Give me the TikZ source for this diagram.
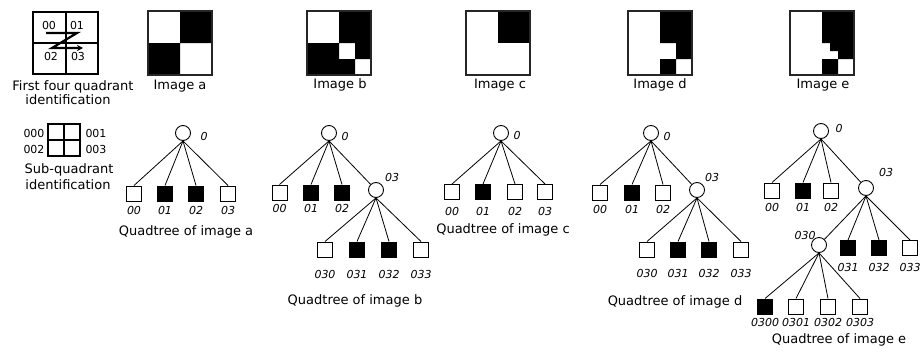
\documentclass[tikz,border=0pt]{standalone}
\usepackage{fontspec}
\setmainfont{DejaVu Sans}
\usetikzlibrary{arrows.meta}

% leaf square with its index written below it
% #1 name, #2 x, #3 y, #4 fill, #5 index, #6 y of the index
\newcommand\qleaf[6]{%
  \node[leaf, fill=#4] (#1) at (#2,#3) {};
  \node[lbl] (#1-t) at (#2,#6) {#5};}

\begin{document}
\begin{tikzpicture}[x=1pt,y=-1pt,
  every node/.style={inner sep=0pt},
  captxt/.style={font=\fontsize{13}{13}\selectfont},
  idx/.style={font=\fontsize{11}{11}\selectfont},
  lbl/.style={font=\fontsize{11}{11}\selectfont\itshape},
  leaf/.style={draw, line width=1pt, minimum size=15pt, fill=white},
  inode/.style={draw, circle, line width=0.9pt, minimum size=15pt, fill=white},
  edge/.style={line width=0.8pt},
  frame/.style={draw=black!85, line width=1.3pt},
  grid/.style={line width=1.1pt},
]
\useasboundingbox (0,0) rectangle (920,356);

% ---------- quadrant numbering ----------
\draw[grid] (33,12) rectangle (98,74) (66,12) -- (66,74) (33,43) -- (98,43);
\node[idx] (q00) at (49,25.5) {00};
\node[idx] (q01) at (77,25.5) {01};
\node[idx] (q02) at (51,56) {02};
\node[idx] (q03) at (78,56) {03};
\draw[line width=2.2pt, -{Stealth[length=6pt,width=6pt]}]
  (46,33) -- (77,33) -- (52,48) -- (83,48);
\node[captxt] (fq1) at (73,87) {First four quadrant};
\node[captxt] (fq2) at (68,99.5) {identification};

% ---------- sub-quadrant numbering ----------
\draw[line width=1.1pt] (48,124) rectangle (80,156);
\draw[line width=2pt] (64,124) -- (64,156) (48,140) -- (80,140);
\node[idx] (s000) at (34,133) {000};
\node[idx] (s002) at (34,149) {002};
\node[idx] (s001) at (96,133) {001};
\node[idx] (s003) at (96,149) {003};
\node[captxt] (sq1) at (69,170) {Sub-quadrant};
\node[captxt] (sq2) at (68,185) {identification};

% ---------- images ----------
% image a
\fill (180,11) rectangle (212,43) (148,43) rectangle (180,75);
\draw[frame] (148,11) rectangle (212,75);
\node[captxt] (ia) at (180,86) {Image a};
% image b
\fill (339,11) rectangle (371,43) (307,43) rectangle (339,75)
      (355,43) rectangle (371,59) (339,59) rectangle (355,75);
\draw[frame] (307,11) rectangle (371,75);
\node[captxt] (ib) at (340,85) {Image b};
% image c
\fill (498,11) rectangle (530,43);
\draw[frame] (466,11) rectangle (530,75);
\node[captxt] (ic) at (500,85) {Image c};
% image d
\fill (660,11) rectangle (692,43) (676,43) rectangle (692,59)
      (660,59) rectangle (676,75);
\draw[frame] (628,11) rectangle (692,75);
\node[captxt] (id) at (660,85) {Image d};
% image e
\fill (822,11) rectangle (854,43) (838,43) rectangle (854,59)
      (822,59) rectangle (838,75) (830,43) rectangle (838,51);
\draw[frame] (790,11) rectangle (854,75);
\node[captxt] (ie) at (823,85) {Image e};

% ---------- quadtree of image a ----------
\node[inode] (a0) at (183,133) {};
\node[lbl] (a0-t) at (204,136) {0};
\qleaf{a00}{134}{193.5}{white}{00}{210}
\qleaf{a01}{165}{193.5}{black}{01}{210}
\qleaf{a02}{196}{193.5}{black}{02}{210}
\qleaf{a03}{228}{193.5}{white}{03}{210}
\foreach \c in {a00,a01,a02,a03} \draw[edge] (a0.south) -- (\c.north);
\node[captxt] (qa) at (186,232) {Quadtree of image a};

% ---------- quadtree of image b ----------
\node[inode] (b0) at (329,133) {};
\node[lbl] (b0-t) at (345,136) {0};
\qleaf{b00}{279.5}{192.5}{white}{00}{208.5}
\qleaf{b01}{311}{192.5}{black}{01}{208.5}
\qleaf{b02}{342}{192.5}{black}{02}{208.5}
\node[inode] (b03) at (376,190) {};
\node[lbl] (b03-t) at (392,177) {03};
\foreach \c in {b00,b01,b02} \draw[edge] (b0.south) -- (\c.north);
\draw[edge] (b0.south) -- (b03);
\qleaf{b030}{325}{249.5}{white}{030}{274}
\qleaf{b031}{357}{249.5}{black}{031}{274}
\qleaf{b032}{389}{249.5}{black}{032}{274}
\qleaf{b033}{421}{249.5}{white}{033}{274}
\foreach \c in {b030,b031,b032,b033} \draw[edge] (b03.south) -- (\c.north);
\node[captxt] (qb) at (355,301) {Quadtree of image b};

% ---------- quadtree of image c ----------
\node[inode] (c0) at (501,133) {};
\node[lbl] (c0-t) at (517,135) {0};
\qleaf{c00}{452}{192}{white}{00}{211}
\qleaf{c01}{483}{192}{black}{01}{211}
\qleaf{c02}{515}{192}{white}{02}{211}
\qleaf{c03}{545}{192}{white}{03}{211}
\foreach \c in {c00,c01,c02,c03} \draw[edge] (c0.south) -- (\c.north);
\node[captxt] (qc) at (503,230) {Quadtree of image c};

% ---------- quadtree of image d ----------
\node[inode] (d0) at (651,133) {};
\node[lbl] (d0-t) at (667,136) {0};
\qleaf{d00}{600}{192.5}{white}{00}{209}
\qleaf{d01}{632}{192.5}{black}{01}{209}
\qleaf{d02}{663}{192.5}{white}{02}{209}
\node[inode] (d03) at (697,190) {};
\node[lbl] (d03-t) at (712,177) {03};
\foreach \c in {d00,d01,d02} \draw[edge] (d0.south) -- (\c.north);
\draw[edge] (d0.south) -- (d03);
\qleaf{d030}{647}{249.5}{white}{030}{273}
\qleaf{d031}{678}{249.5}{black}{031}{273}
\qleaf{d032}{709}{249.5}{black}{032}{273}
\qleaf{d033}{741}{249.5}{white}{033}{273}
\foreach \c in {d030,d031,d032,d033} \draw[edge] (d03.south) -- (\c.north);
\node[captxt] (qd) at (675,302) {Quadtree of image d};

% ---------- quadtree of image e ----------
\node[inode] (e0) at (821,131) {};
\node[lbl] (e0-t) at (839,128) {0};
\qleaf{e00}{772}{190.5}{white}{00}{207}
\qleaf{e01}{803}{190.5}{black}{01}{207}
\qleaf{e02}{831}{190.5}{white}{02}{207}
\node[inode] (e03) at (866,188) {};
\node[lbl] (e03-t) at (886,172) {03};
\foreach \c in {e00,e01,e02} \draw[edge] (e0.south) -- (\c.north);
\draw[edge] (e0.south) -- (e03);
\node[inode] (e030) at (819,245) {};
\node[lbl] (e030-t) at (805,235) {030};
\qleaf{e031}{848}{248}{black}{031}{267}
\qleaf{e032}{879}{248}{black}{032}{267}
\qleaf{e033}{910}{248}{white}{033}{267}
\draw[edge] (e03.south) -- (e030);
\foreach \c in {e031,e032,e033} \draw[edge] (e03.south) -- (\c.north);
\qleaf{e0300}{765}{306.5}{black}{0300}{322}
\qleaf{e0301}{796}{306.5}{white}{0301}{322}
\qleaf{e0302}{828}{306.5}{white}{0302}{322}
\qleaf{e0303}{860}{306.5}{white}{0303}{322}
\foreach \c in {e0300,e0301,e0302,e0303} \draw[edge] (e030.south) -- (\c.north);
\node[captxt] (qe) at (839,340) {Quadtree of image e};
\end{tikzpicture}
\end{document}
